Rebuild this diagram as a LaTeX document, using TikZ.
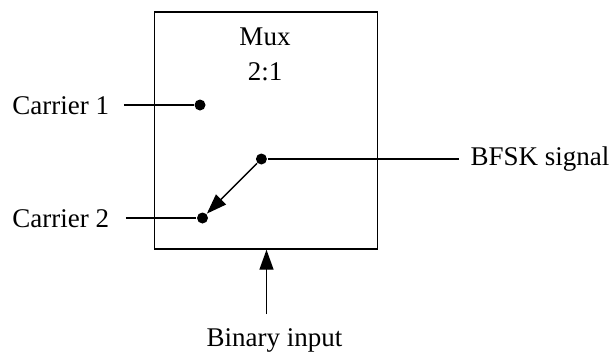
\documentclass[tikz,border=0pt]{standalone}
\usepackage{fontspec}
\setmainfont{Liberation Serif}
\usetikzlibrary{arrows.meta}
\begin{document}
\begin{tikzpicture}[x=1pt,y=-1pt, line width=1.4pt,
  lbl/.style={inner sep=0pt, font=\fontsize{27}{32}\selectfont},
  dot/.style={circle, fill, inner sep=0pt, minimum size=11pt},
  arr/.style={-{Triangle[length=20pt,width=14pt]}}]
\useasboundingbox (0,0) rectangle (611,354);
\node[draw, inner sep=0pt, minimum width=222.8pt, minimum height=237pt] (mux) at (265.9,130.5) {};
\node[lbl, anchor=base] (t1) at (265,45) {Mux};
\node[lbl, anchor=base] (t2) at (265,80) {2:1};
\node[lbl, anchor=base west] (c1) at (11.7,114) {Carrier 1};
\node[lbl, anchor=base west] (c2) at (11.7,227) {Carrier 2};
\node[lbl, anchor=base west] (bfsk) at (470,165) {BFSK signal};
\node[lbl, anchor=base] (bin) at (274.5,346.5) {Binary input};
\node[dot] (d1) at (200,105) {};
\node[dot] (d2) at (202.5,218) {};
\node[dot] (d3) at (261.4,159) {};
\coordinate (binstart) at (266.5,314);
\draw ([xshift=14pt]c1.east |- d1) -- (d1);
\draw ([xshift=16pt]c2.east |- d2) -- (d2);
\draw (d3) -- ([xshift=-11.2pt]bfsk.west |- d3);
\draw[arr] (d3) -- (d2);
\draw[arr] (binstart) -- (binstart |- mux.south);
\end{tikzpicture}
\end{document}
